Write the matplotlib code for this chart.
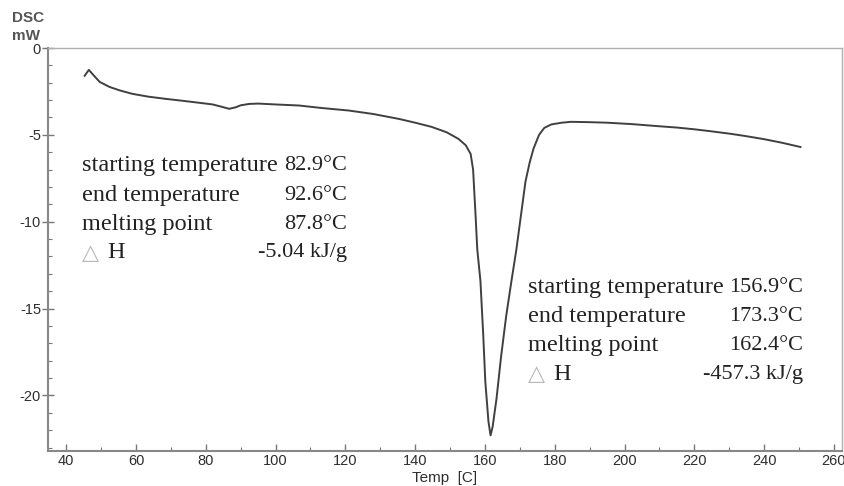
import matplotlib
matplotlib.use("Agg")
import matplotlib.pyplot as plt
from matplotlib.ticker import MultipleLocator

# DSC trace (temperature in C, heat flow in mW)
temp = [45.3, 46.5, 48.0, 49.6, 52.4, 55.5, 59.0, 63.5, 68.6, 73.0, 78.0,
        82.0, 84.5, 86.7, 88.5, 90.0, 92.4, 95.0, 100.0, 106.7, 113.0,
        121.0, 128.0, 135.3, 140.0, 144.7, 149.0, 152.4, 154.5, 155.9,
        156.6, 157.3, 157.8, 158.7, 159.5, 160.1, 161.0, 161.6, 162.2,
        163.3, 164.6, 166.1, 167.6, 169.0, 170.4, 171.6, 172.8, 173.9,
        175.5, 177.0, 179.0, 182.0, 184.7, 190.0, 195.0, 202.0, 209.6,
        215.0, 220.0, 225.0, 230.4, 235.0, 240.0, 245.0, 250.4]
dsc = [-1.6, -1.26, -1.6, -1.95, -2.24, -2.45, -2.64, -2.8, -2.93, -3.03,
       -3.15, -3.25, -3.38, -3.5, -3.42, -3.3, -3.22, -3.2, -3.25, -3.31,
       -3.45, -3.6, -3.8, -4.08, -4.3, -4.54, -4.85, -5.23, -5.6, -6.1,
       -7.0, -9.6, -11.6, -13.4, -16.5, -19.2, -21.5, -22.3, -21.8, -20.2,
       -17.8, -15.4, -13.4, -11.6, -9.5, -7.7, -6.6, -5.8, -5.0, -4.6,
       -4.4, -4.3, -4.25, -4.27, -4.3, -4.38, -4.5, -4.58, -4.68, -4.8,
       -4.94, -5.08, -5.25, -5.45, -5.7]

x_ticks = [40, 60, 80, 100, 120, 140, 160, 180, 200, 220, 240, 260]
y_ticks = [0, -5, -10, -15, -20]

left_labels = ["starting temperature", "end temperature", "melting point", "H"]
left_values = ["82.9°C", "92.6°C", "87.8°C", "-5.04 kJ/g"]
right_labels = ["starting temperature", "end temperature", "melting point", "H"]
right_values = ["156.9°C", "173.3°C", "162.4°C", "-457.3 kJ/g"]

W, H = 844, 486
fig = plt.figure(figsize=(W / 100, H / 100), dpi=100)
ax = fig.add_axes([48 / W, 1 - 451 / H, (842 - 48) / W, (451 - 48) / H])

ax.plot(temp, dsc, color="#404040", lw=1.4)

ax.set_xlim(34.8, 262.3)
ax.set_ylim(-23.2, 0)
ax.set_xticks(x_ticks)
ax.set_yticks(y_ticks)
ax.xaxis.set_minor_locator(MultipleLocator(10))
ax.yaxis.set_minor_locator(MultipleLocator(1))

tick_font = {"family": "Liberation Sans", "size": 10.5}
ax.set_xticklabels([str(t) for t in x_ticks], **tick_font, color="#2e2e2e")
ax.set_yticklabels([str(t) for t in y_ticks], **tick_font, color="#2e2e2e")
ax.tick_params(axis="y", which="major", direction="inout", length=8, width=1,
               color="#777777", pad=1)
ax.tick_params(axis="x", which="major", direction="in", length=5, width=1,
               color="#777777", pad=2)
ax.tick_params(which="minor", direction="in", length=3, width=0.8,
               color="#777777")

for side in ["left", "bottom"]:
    ax.spines[side].set_color("#888888")
    ax.spines[side].set_linewidth(1.5)
for side in ["top", "right"]:
    ax.spines[side].set_color("#b0b0b0")
    ax.spines[side].set_linewidth(1.0)

fig.text(12 / W, 1 - 18 / H, "DSC", family="Liberation Sans", fontsize=11,
         weight="bold", color="#555555", va="center")
fig.text(12 / W, 1 - 36 / H, "mW", family="Liberation Sans", fontsize=11,
         weight="bold", color="#555555", va="center")
fig.text(445 / W, 1 - 478 / H, "Temp  [C]", family="Liberation Sans",
         fontsize=11, color="#2e2e2e", ha="center", va="center")

label_font = {"family": "Liberation Serif", "size": 17.5, "color": "#222222"}
value_font = {"family": "Liberation Serif", "size": 16, "color": "#222222"}


def annotate_block(x0, x_right, ys, labels, values):
    for i, (lab, val) in enumerate(zip(labels, values)):
        y = 1 - ys[i] / H
        if lab == "H":
            fig.text(x0 / W, y, "△", family="DejaVu Sans", fontsize=16,
                     color="#b8b8b8", va="center")
            fig.text((x0 + 25) / W, y, lab, va="center", **label_font)
        else:
            fig.text(x0 / W, y, lab, va="center", **label_font)
        fig.text(x_right / W, y, val, ha="right", va="center", **value_font)


annotate_block(82, 347, [166, 195, 224, 253], left_labels, left_values)
annotate_block(528, 803, [287, 316, 345, 374], right_labels, right_values)

fig.savefig("out.png", dpi=100)
